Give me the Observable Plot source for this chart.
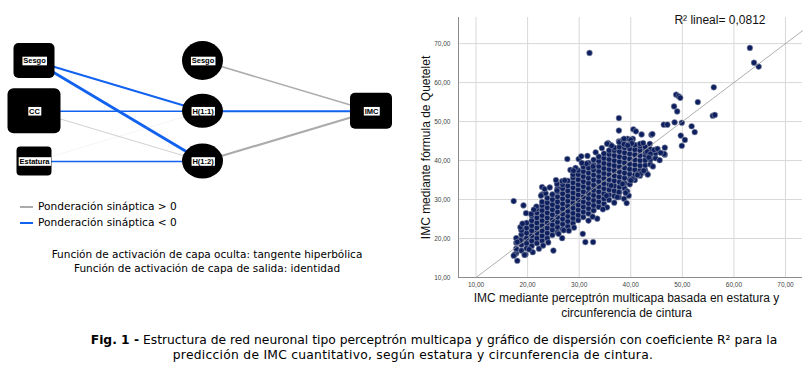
<!DOCTYPE html>
<html><head><meta charset="utf-8">
<script src="https://cdn.jsdelivr.net/npm/d3@7"></script>
<script src="https://cdn.jsdelivr.net/npm/@observablehq/plot@0.6"></script>
<style>
body{margin:0;background:#fff;}
#wrap{position:relative;width:807px;height:366px;overflow:hidden;font-family:"DejaVu Sans",sans-serif;color:#000;}
#net{position:absolute;left:0;top:0;}
#scatter{position:absolute;left:410px;top:0;}
.leg{position:absolute;left:20px;font-size:10.6px;line-height:14px;white-space:nowrap;}
.leg span.sw{display:inline-block;width:13px;vertical-align:middle;margin-right:5px;}
#act{position:absolute;left:0;top:247px;width:414px;text-align:center;font-size:10.5px;line-height:14px;white-space:nowrap;}
.cap{position:absolute;left:0;text-align:center;font-size:12.3px;line-height:15px;white-space:nowrap;}
#cap1{top:333px;width:868px;}
#cap2{top:348px;width:826px;letter-spacing:0.27px;}
</style></head><body>
<div id="wrap">
  <div id="net"></div>
  <div id="legend"></div>
  <div id="act"></div>
  <div id="scatter"></div>
  <div id="cap1" class="cap"></div>
  <div id="cap2" class="cap"></div>
</div>
<script>
// ---------- Network data ----------
const nodeNames = ["Sesgo", "CC", "Estatura", "Sesgo", "H(1:1)", "H(1:2)", "IMC"];
const nodeLayer = [0, 0, 0, 1, 1, 1, 2];
const nodeRow   = [0, 1, 2, 0, 1, 2, 1];
const edgeFrom  = [0, 0, 1, 1, 2, 2, 3, 4, 5];
const edgeTo    = [4, 5, 4, 5, 4, 5, 6, 6, 6];
const edgeWeight = [-0.55, -0.8, -0.42, 0.25, 0.1, -0.38, 0.45, -0.55, 0.6];

const legendLabels = ["Ponderación sináptica > 0", "Ponderación sináptica < 0"];
const actLines = ["Función de activación de capa oculta: tangente hiperbólica", "Función de activación de capa de salida: identidad"];

// ---------- Scatter data ----------
const xTicks = [10, 20, 30, 40, 50, 60, 70];
const yTicks = [10, 20, 30, 40, 50, 60, 70];
const fitX = [10, 73.3];
const fitY = [10, 73.3];
const r2Label = "R² lineal= 0,0812";
const xLabel = "IMC mediante perceptrón multicapa basada en estatura y\ncircunferencia de cintura";
const yLabel = "IMC mediante fórmula de Quetelet";

// dense core, column by column (x, list of y)
const coreColX = [17.8, 18.8, 19.8, 20.8, 21.8, 22.8, 23.8, 24.8, 25.8, 26.8, 27.8, 28.8, 29.8, 30.8, 31.8, 32.8, 33.8, 34.8, 35.8, 36.8, 37.8, 38.8, 39.8, 40.8, 41.8, 42.8, 43.8, 44.8];
const coreColY = [
  [16.2, 17.4, 18.9, 20.1],
  [16.9, 18.4, 19.7, 21.0, 22.3],
  [17.5, 18.8, 20.1, 21.4, 22.7, 24.0],
  [18.1, 19.4, 20.7, 22.0, 23.3, 24.6, 25.9],
  [18.8, 20.1, 21.4, 22.7, 24.0, 25.3, 26.6, 27.6],
  [19.4, 20.7, 22.0, 23.3, 24.6, 25.9, 27.2, 28.5, 29.4],
  [20.1, 21.4, 22.7, 24.0, 25.3, 26.6, 27.9, 29.2, 30.4],
  [20.9, 22.2, 23.5, 24.8, 26.1, 27.4, 28.7, 30.0, 31.3],
  [21.6, 22.9, 24.2, 25.5, 26.8, 28.1, 29.4, 30.7, 32.0, 32.9],
  [22.4, 23.7, 25.0, 26.3, 27.6, 28.9, 30.2, 31.5, 32.8, 33.8],
  [23.1, 24.4, 25.7, 27.0, 28.3, 29.6, 30.9, 32.2, 33.5, 34.8],
  [23.9, 25.2, 26.5, 27.8, 29.1, 30.4, 31.7, 33.0, 34.3, 35.6, 36.4],
  [24.7, 26.0, 27.3, 28.6, 29.9, 31.2, 32.5, 33.8, 35.1, 36.4, 37.5],
  [25.5, 26.8, 28.1, 29.4, 30.7, 32.0, 33.3, 34.6, 35.9, 37.2, 38.4],
  [26.4, 27.7, 29.0, 30.3, 31.6, 32.9, 34.2, 35.5, 36.8, 38.1, 39.4],
  [27.2, 28.5, 29.8, 31.1, 32.4, 33.7, 35.0, 36.3, 37.6, 38.9, 40.2],
  [28.1, 29.4, 30.7, 32.0, 33.3, 34.6, 35.9, 37.2, 38.5, 39.8, 41.0],
  [28.9, 30.2, 31.5, 32.8, 34.1, 35.4, 36.7, 38.0, 39.3, 40.6, 41.8],
  [29.9, 31.2, 32.5, 33.8, 35.1, 36.4, 37.7, 39.0, 40.3, 41.6, 42.6],
  [30.9, 32.2, 33.5, 34.8, 36.1, 37.4, 38.7, 40.0, 41.3, 42.6, 43.3],
  [31.9, 33.2, 34.5, 35.8, 37.1, 38.4, 39.7, 41.0, 42.3, 43.5],
  [32.9, 34.2, 35.5, 36.8, 38.1, 39.4, 40.7, 42.0, 43.3, 44.1],
  [33.9, 35.2, 36.5, 37.8, 39.1, 40.4, 41.7, 43.0, 44.1],
  [35.0, 36.3, 37.6, 38.9, 40.2, 41.5, 42.8, 44.0],
  [36.1, 37.4, 38.7, 40.0, 41.3, 42.6, 43.7],
  [37.5, 38.8, 40.1, 41.4, 42.7, 43.5],
  [39.0, 40.3, 41.6, 42.9],
  [40.6, 41.9, 42.8]
];
// scattered points above the band and outliers
const upperPts = [[17.3,29.6],[19.2,28.5],[19.7,26.5],[20.7,26.3],[21.7,28.2],[22.8,31.3],[23.5,31.6],[22.8,33.2],[23.3,32.7],[22.6,31.0],[25.7,34.0],[25.7,32.3],[26.7,34.7],[25.5,35.0],[27.2,34.9],[24.3,33.1],[21.2,27.4],[27.7,40.4],[29.9,40.4],[31.4,39.2],[32.7,38.5],[29.3,38.1],[28.3,37.6],[30.5,39.4],[28.9,37.4],
  [35.6,44.5],[36.1,44.0],[35.4,44.3],[36.3,43.8],[37.7,44.9],[37.8,44.7],[38.5,45.3],[39.4,45.6],[38.7,45.6],[40.3,45.3],[40.4,45.6],[40.0,45.3],[37.7,47.7],[37.7,50.9],[40.5,48.0],[41.0,47.5],[42.1,46.7],[44.0,46.6],[44.2,46.8],[41.8,44.3],[42.4,44.5],[43.7,44.3],[40.2,44.4],[38.7,44.2],[39.4,43.9],[46.6,41.5],[42.9,42.1],[44.5,42.7],[43.2,42.3],[43.8,41.7],[43.5,40.8],[46.5,41.7],[46.6,43.3],[49.9,43.8],[49.7,46.4],[50.5,45.3],[52.4,47.3],[51.8,48.8],[46.4,49.2],[47.1,49.2],[48.5,49.8],[49.9,49.7],[48.4,53.9],[49.0,52.6],[48.8,56.9],[49.3,56.5],[49.6,56.1],[53.0,55.0],[56.1,58.8],[55.9,51.5],[56.3,51.7],[63.1,68.9],[63.9,65.1],[64.8,64.1],[32.0,67.6],[45.2,43.0],[45.8,42.0],[34.4,43.2],[33.2,42.1],[31.6,41.2],[30.4,41.1]];
// scattered points below the band
const lowerPts = [[17.5,15.9],[18.0,14.3],[17.3,15.6],[19.6,15.9],[19.4,15.8],[21.0,16.5],[22.2,17.4],[25.0,16.9],[18.6,19.5],[18.8,22.1],[18.0,19.1],[18.6,22.9],[19.0,23.8],[26.7,20.1],[26.0,21.2],[27.0,22.1],[30.7,21.2],[31.2,19.1],[32.7,19.1],[35.3,31.0],[36.2,33.6],[37.7,30.6],[37.7,31.9],[39.6,31.0],[39.3,32.1],[38.7,30.2],[39.2,29.1],[38.4,34.0],[40.2,35.3],[41.3,36.6],[43.2,36.6],[42.0,36.7],[41.3,36.3],[40.3,35.3],[40.0,34.9],[39.0,31.7],[43.3,36.4],[33.5,25.1],[35.4,28.0],[37.4,30.6],[29.0,22.8],[31.8,24.6],[34.6,27.5],[36.8,29.2],[24.0,19.0],[23.0,18.2],[20.3,17.2],[28.0,22.0],[32.6,25.6],[42.5,37.4],[44.3,38.5],[45.6,40.1]];

const captionBold = "Fig. 1 -";
const captionRest = " Estructura de red neuronal tipo perceptrón multicapa y gráfico de dispersión con coeficiente R² para la";
const captionLine2 = "predicción de IMC cuantitativo, según estatura y circunferencia de cintura.";

// ---------- styles ----------
const POS = "#ababab", NEG = "#1262f0";
const nodeBox = [[41,35,5],[53,45,6],[35,29,4],[41,39,-1],[41,34,-1],[41,35,-1],[42,36,5]]; // w,h,corner(-1 = ellipse)

// ---------- Network plot ----------
const netMarks = [];
edgeFrom.forEach((f, k) => {
  const t = edgeTo[k], w = edgeWeight[k];
  netMarks.push(Plot.link([k], {
    x1: () => nodeLayer[f], y1: () => nodeRow[f], x2: () => nodeLayer[t], y2: () => nodeRow[t],
    stroke: w > 0 ? POS : NEG,
    strokeOpacity: w > 0 ? Math.min(1, 0.22 + 1.7 * w) : 1,
    strokeWidth: Math.abs(w) * 3.5
  }));
});
nodeNames.forEach((n, i) => {
  const [w, h, c] = nodeBox[i];
  netMarks.push(Plot.rect([i], {
    x1: j => nodeLayer[j], x2: j => nodeLayer[j], y1: j => nodeRow[j], y2: j => nodeRow[j],
    insetLeft: -w / 2, insetRight: -w / 2, insetTop: -h / 2, insetBottom: -h / 2,
    rx: c < 0 ? w / 2 : c, ry: c < 0 ? h / 2 : c, fill: "black"
  }));
});
netMarks.push(Plot.text(nodeNames.map((_, i) => i), {
  x: j => nodeLayer[j], y: j => nodeRow[j], text: j => nodeNames[j],
  fontWeight: "bold", fontSize: 7.5, fill: "black", fontFamily: "Liberation Sans"
}));

const net = Plot.plot({
  width: 400, height: 190, margin: 0,
  x: {domain: [0, 2], range: [34, 371], axis: null},
  y: {domain: [0, 2], range: [60.5, 161], axis: null},
  marks: netMarks
});
document.getElementById("net").append(net);
net.querySelectorAll('g[aria-label="text"] text').forEach(t => {
  const b = t.getBBox();
  const r = document.createElementNS("http://www.w3.org/2000/svg", "rect");
  r.setAttribute("x", b.x - 0.8); r.setAttribute("y", b.y + 0.3);
  r.setAttribute("width", b.width + 1.6); r.setAttribute("height", b.height - 0.4);
  r.setAttribute("fill", "white");
  if (t.getAttribute("transform")) r.setAttribute("transform", t.getAttribute("transform"));
  t.parentNode.insertBefore(r, t);
});

// legend + activation text
const legColors = [POS, NEG];
const legTops = [199, 215];
const legDiv = document.getElementById("legend");
legendLabels.forEach((l, i) => {
  const d = document.createElement("div");
  d.className = "leg"; d.style.top = legTops[i] + "px";
  d.innerHTML = `<span class="sw" style="border-top:${i ? 2.5 : 2}px solid ${legColors[i]}"></span>`;
  d.append(document.createTextNode(l));
  legDiv.append(d);
});
document.getElementById("act").innerHTML = actLines.join("<br>");

// ---------- Scatter plot ----------
const pts = [];
coreColX.forEach((x, i) => coreColY[i].forEach(y => pts.push({x, y})));
upperPts.concat(lowerPts).forEach(([x, y]) => pts.push({x, y}));
const fmt = d => d.toFixed(2).replace(".", ",");

const sc = Plot.plot({
  width: 397, height: 320,
  marginLeft: 48, marginRight: 5, marginTop: 17, marginBottom: 43,
  style: {fontFamily: "Liberation Sans", fontSize: "6.5px", color: "#444", background: "white"},
  x: {domain: [6.6, 73.3], ticks: xTicks, tickFormat: fmt, tickSize: 0, tickPadding: 5, label: null},
  y: {domain: [10, 76.7], ticks: yTicks, tickFormat: fmt, tickSize: 0, tickPadding: 8, label: null},
  marks: [
    Plot.ruleX(xTicks, {stroke: "#d8d8d8", strokeWidth: 1}),
    Plot.ruleY(yTicks, {stroke: "#d8d8d8", strokeWidth: 1}),
    Plot.ruleX([6.6], {stroke: "#8c8c8c", strokeWidth: 1}),
    Plot.ruleY([10], {stroke: "#8c8c8c", strokeWidth: 1}),
    Plot.dot(pts, {x: "x", y: "y", r: 2.85, fill: "#0d1f5e", stroke: "#8a90a8", strokeWidth: 0.6}),
    Plot.line(fitX.map((x, i) => ({x, y: fitY[i]})), {x: "x", y: "y", stroke: "#9a9a9a", strokeWidth: 0.8}),
    Plot.text([yLabel], {text: d => d, frameAnchor: "left", textAnchor: "middle", lineAnchor: "middle", rotate: -90, dx: -32, fontSize: 12, fill: "#111", fontFamily: "Liberation Sans"}),
    Plot.text([xLabel], {text: d => d, frameAnchor: "bottom", lineAnchor: "top", dy: 15, dx: -4, fontSize: 12, lineHeight: 1.17, fill: "#111", fontFamily: "Liberation Sans"}),
    Plot.text([r2Label], {text: d => d, frameAnchor: "top-right", textAnchor: "end", dx: -37, dy: -2, fontSize: 12, fill: "#111", fontFamily: "Liberation Sans"})
  ]
});
document.getElementById("scatter").append(sc);

// caption
const cap1 = document.getElementById("cap1");
const b = document.createElement("b"); b.textContent = captionBold;
cap1.append(b, document.createTextNode(captionRest));
document.getElementById("cap2").textContent = captionLine2;
</script>
</body></html>
